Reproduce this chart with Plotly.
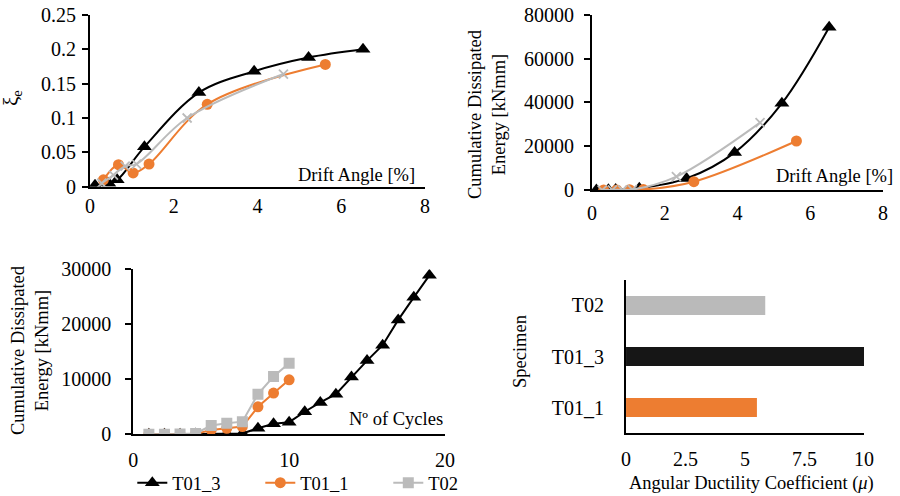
import plotly.graph_objects as go

# ---------------- data ----------------
series_names = ["T01_3", "T01_1", "T02"]
series_colors = ["#000000", "#ED7D31", "#BBBBBB"]

# drift angle [%] per specimen (top charts)
drift_T01_3 = [0.12, 0.45, 0.65, 1.3, 2.6, 3.92, 5.22, 6.52]
drift_T01_1 = [0.32, 0.68, 1.03, 1.41, 2.8, 5.62]
drift_T02 = [0.28, 0.56, 0.84, 1.11, 2.32, 4.62]

# equivalent viscous damping xi_e
xi_T01_3 = [0.002, 0.005, 0.01, 0.058, 0.137, 0.168, 0.188, 0.2]
xi_T01_1 = [0.01, 0.032, 0.02, 0.033, 0.12, 0.178]
xi_T02 = [0.005, 0.017, 0.03, 0.033, 0.1, 0.164]

# cumulative dissipated energy vs drift [kNmm]
edrift_T01_3 = [0, 100, 250, 800, 5300, 17100, 39600, 74400]
edrift_T01_1 = [20, 60, 120, 200, 3800, 22400]
edrift_T02 = [0, 50, 100, 200, 6100, 30800]

# cumulative dissipated energy vs number of cycles [kNmm]
cycles_T01_3 = list(range(1, 20))
ecyc_T01_3 = [0, 0, 20, 40, 60, 80, 150, 1100, 1900, 2200, 4100, 5800, 7300,
              10400, 13400, 16200, 20800, 24900, 28900]
cycles_T01_1 = list(range(1, 11))
ecyc_T01_1 = [0, 0, 0, 50, 800, 1100, 1400, 5000, 7500, 9900]
cycles_T02 = list(range(1, 11))
ecyc_T02 = [0, 0, 50, 150, 1600, 2000, 2300, 7300, 10500, 12900]

# angular ductility coefficient
specimens = ["T01_1", "T01_3", "T02"]
ductility = [5.5, 10.0, 5.85]
bar_colors = ["#ED7D31", "#161616", "#BABABA"]

# ---------------- figure ----------------
FONT = "Liberation Serif"
TICKF = dict(family=FONT, size=20, color="#000000")
TITLEF = dict(family=FONT, size=18.5, color="#000000")

marker_style = {
    "T01_3": dict(symbol="triangle-up", size=13, color="#000000"),
    "T01_1": dict(symbol="circle", size=11, color="#ED7D31"),
    "T02_x": dict(symbol="x-thin", size=9, color="#BBBBBB",
                  line=dict(width=1.8, color="#BBBBBB")),
    "T02_sq": dict(symbol="square", size=11, color="#BBBBBB"),
}

fig = go.Figure()

# top-left: xi_e vs drift
fig.add_trace(go.Scatter(x=drift_T01_3, y=xi_T01_3, mode="lines+markers", name="T01_3",
                         line=dict(color="#000000", width=2, shape="spline"),
                         marker=marker_style["T01_3"], xaxis="x", yaxis="y",
                         showlegend=False, legendgroup="T01_3"))
fig.add_trace(go.Scatter(x=drift_T01_1, y=xi_T01_1, mode="lines+markers", name="T01_1",
                         line=dict(color="#ED7D31", width=2, shape="spline"),
                         marker=marker_style["T01_1"], xaxis="x", yaxis="y",
                         showlegend=False, legendgroup="T01_1"))
fig.add_trace(go.Scatter(x=drift_T02, y=xi_T02, mode="lines+markers", name="T02",
                         line=dict(color="#BBBBBB", width=2, shape="spline"),
                         marker=marker_style["T02_x"], xaxis="x", yaxis="y",
                         showlegend=False, legendgroup="T02"))

# top-right: energy vs drift
fig.add_trace(go.Scatter(x=drift_T01_3, y=edrift_T01_3, mode="lines+markers", name="T01_3",
                         line=dict(color="#000000", width=2, shape="spline"),
                         marker=marker_style["T01_3"], xaxis="x2", yaxis="y2",
                         showlegend=False, legendgroup="T01_3"))
fig.add_trace(go.Scatter(x=drift_T01_1, y=edrift_T01_1, mode="lines+markers", name="T01_1",
                         line=dict(color="#ED7D31", width=2, shape="spline"),
                         marker=marker_style["T01_1"], xaxis="x2", yaxis="y2",
                         showlegend=False, legendgroup="T01_1"))
fig.add_trace(go.Scatter(x=drift_T02, y=edrift_T02, mode="lines+markers", name="T02",
                         line=dict(color="#BBBBBB", width=2, shape="spline"),
                         marker=marker_style["T02_x"], xaxis="x2", yaxis="y2",
                         showlegend=False, legendgroup="T02"))

# bottom-left: energy vs cycles (these carry the legend)
fig.add_trace(go.Scatter(x=cycles_T01_3, y=ecyc_T01_3, mode="lines+markers", name="T01_3",
                         line=dict(color="#000000", width=2),
                         marker=marker_style["T01_3"], xaxis="x3", yaxis="y3",
                         legendgroup="T01_3"))
fig.add_trace(go.Scatter(x=cycles_T01_1, y=ecyc_T01_1, mode="lines+markers", name="T01_1",
                         line=dict(color="#ED7D31", width=2),
                         marker=marker_style["T01_1"], xaxis="x3", yaxis="y3",
                         legendgroup="T01_1"))
fig.add_trace(go.Scatter(x=cycles_T02, y=ecyc_T02, mode="lines+markers", name="T02",
                         line=dict(color="#BBBBBB", width=2),
                         marker=marker_style["T02_sq"], xaxis="x3", yaxis="y3",
                         legendgroup="T02"))

# bottom-right: ductility bars
fig.add_trace(go.Bar(y=specimens, x=ductility, orientation="h",
                     marker=dict(color=bar_colors, line=dict(width=0)),
                     width=0.37, xaxis="x4", yaxis="y4", showlegend=False))

line_common = dict(showline=True, linecolor="#000000", linewidth=2, automargin=False,
                   showgrid=False, zeroline=False, tickfont=TICKF)
yt = dict(ticks="outside", ticklen=6, tickwidth=1.5, tickcolor="#000000")

fig.update_layout(
    width=900, height=496,
    margin=dict(l=0, r=0, t=0, b=0, autoexpand=False),
    paper_bgcolor="white", plot_bgcolor="white",
    font=dict(family=FONT, color="#000000"),
    xaxis=dict(domain=[0.1, 0.4722], range=[0, 8], dtick=2, anchor="y",
               ticks="", ticklabelstandoff=0, **line_common),
    yaxis=dict(domain=[0.6236, 0.9698], range=[0, 0.25], dtick=0.05, anchor="x",
               ticklabelstandoff=2, **yt, **line_common),
    xaxis2=dict(domain=[0.6578, 0.9811], range=[0, 8], dtick=2, anchor="y2",
                ticks="", ticklabelstandoff=4, **line_common),
    yaxis2=dict(domain=[0.6169, 0.9698], range=[0, 80000], dtick=20000, anchor="x2",
                tickformat="d", ticklabelstandoff=6, **yt, **line_common),
    xaxis3=dict(domain=[0.1481, 0.4944], range=[0, 20], dtick=10, anchor="y3",
                ticks="", ticklabelstandoff=7, **line_common),
    yaxis3=dict(domain=[0.1244, 0.4571], range=[0, 30000], dtick=10000, anchor="x3",
                tickformat="d", ticklabelstandoff=10, **yt, **line_common),
    xaxis4=dict(domain=[0.6956, 0.96], range=[0, 10], dtick=2.5, anchor="y4",
                ticks="", ticklabelstandoff=7, **line_common),
    yaxis4=dict(domain=[0.127, 0.4355], range=[-0.5, 2.5], anchor="x4",
                type="category", ticks="", ticklabelstandoff=16, **line_common),
    legend=dict(orientation="h", x=0.147, xanchor="left", y=0.026, yanchor="middle",
                font=dict(family=FONT, size=18.5, color="#000000"),
                bgcolor="rgba(0,0,0,0)", entrywidth=83, entrywidthmode="pixels",
                traceorder="normal"),
)

annos = [
    dict(text="Drift Angle [%]", x=417 / 900, y=(496 - 175) / 496, xanchor="right",
         yanchor="middle", font=TITLEF),
    dict(text="Drift Angle [%]", x=895 / 900, y=(496 - 176) / 496, xanchor="right",
         yanchor="middle", font=TITLEF),
    dict(text="Nº of Cycles", x=445 / 900, y=(496 - 419) / 496, xanchor="right",
         yanchor="middle", font=TITLEF),
    dict(text="ξ<sub>e</sub>", x=12 / 900, y=(496 - 98) / 496, xanchor="center",
         yanchor="middle", textangle=-90, font=dict(family=FONT, size=21, color="#000000")),
    dict(text="Cumulative Dissipated<br>Energy [kNmm]", x=487 / 900, y=(496 - 114) / 496,
         xanchor="center", yanchor="middle", textangle=-90, font=TITLEF),
    dict(text="Cumulative Dissipated<br>Energy [kNmm]", x=30 / 900, y=(496 - 350) / 496,
         xanchor="center", yanchor="middle", textangle=-90, font=TITLEF),
    dict(text="Specimen", x=520 / 900, y=(496 - 352) / 496, xanchor="center",
         yanchor="middle", textangle=-90, font=TITLEF),
    dict(text="Angular Ductility Coefficient (<i>μ</i>)", x=751 / 900, y=(496 - 483) / 496,
         xanchor="center", yanchor="middle", font=TITLEF),
]
for a in annos:
    a.update(xref="paper", yref="paper", showarrow=False)
fig.update_layout(annotations=annos)

fig.write_html("out.html", config={"displayModeBar": False},
               post_script="document.body.style.margin='0';"
                           "document.body.style.overflow='hidden';")
